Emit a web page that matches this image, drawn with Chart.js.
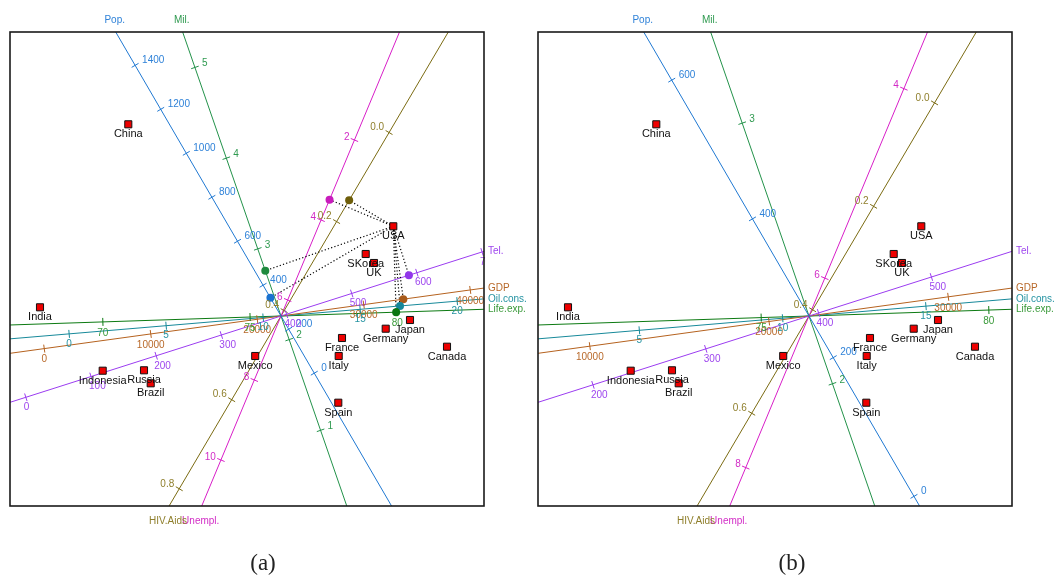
<!DOCTYPE html>
<html>
<head>
<meta charset="utf-8">
<script src="https://cdn.jsdelivr.net/npm/chart.js@4/dist/chart.umd.min.js"></script>
<style>
  html, body { margin: 0; padding: 0; background: #fff; }
  body { width: 1057px; height: 579px; position: relative; overflow: hidden; }
  canvas { position: absolute; top: 0; }
  #panelA { left: 0; }
  #panelB { left: 528px; }
  .caption { position: absolute; top: 550px; width: 60px; text-align: center;
             font-family: "Liberation Serif", "DejaVu Serif", serif; font-size: 23px; color: #222; line-height: 26px; }
</style>
</head>
<body>
<canvas id="panelA" width="528" height="579" style="width:528px;height:579px"></canvas>
<canvas id="panelB" width="529" height="579" style="width:529px;height:579px"></canvas>
<div class="caption" style="left:233px">(a)</div>
<div class="caption" style="left:762px">(b)</div>
<script>
// Country scores on the two principal coordinates
const countries = ['China','India','Indonesia','Russia','Brazil','Mexico','USA','SKorea','UK',
                   'Japan','Germany','France','Italy','Canada','Spain'];
const scoreX = [-1.527,-2.41,-1.783,-1.37,-1.303,-0.258,1.123,0.847,0.93,1.29,1.047,0.61,0.577,1.66,0.573];
const scoreY = [1.917,0.087,-0.547,-0.543,-0.673,-0.40,0.897,0.62,0.53,-0.04,-0.127,-0.22,-0.40,-0.307,-0.867];

// Biplot axes: direction of increasing values (degrees), value at the centre
const varNames   = ['Pop.','Mil.','Unempl.','HIV.Aids','Tel.','GDP','Oil.cons.','Life.exp.'];
const varAngle   = [120.2, 109.1, 247.35, 239.5, 17.67, 7.84, 4.82, 1.9];
const varMean    = [260, 2.26, 6.4, 0.412, 391.5, 22230, 10.92, 76.05];
const varDecimals = [0, 0, 0, 1, 0, 0, 0, 0];

// Length along the axis of one unit of each variable (plot units)
const unitLenA = [0.002544, 0.960, 0.4334, 5.168, 0.00684, 0.0001075, 0.1947, 0.2946];
const unitLenB = [0.008026, 2.758, 1.0265, 6.003, 0.01184, 0.0001809, 0.2876, 0.4555];

// Calibration markers shown on each axis
const ticksA = [
  [0,200,400,600,800,1000,1200,1400],
  [1,2,3,4,5],
  [2,4,6,8,10],
  [0,0.2,0.4,0.6,0.8],
  [0,100,200,300,400,500,600,700],
  [0,10000,20000,30000,40000],
  [0,5,10,15,20],
  [70,75,80]
];
const ticksB = [
  [0,200,400,600],
  [2,3],
  [4,6,8],
  [0,0.2,0.4,0.6],
  [200,300,400,500],
  [10000,20000,30000],
  [5,10,15],
  [75,80]
];

// Country projected onto every axis in panel (a)
const projectedCountry = 'USA';

// Styling
const lineColors = ['#1f78d2','#23924a','#d81ec8','#7b6b12','#9b3cf0','#b5621f','#17899a','#0c7a12'];
const textColors = ['#2f82d8','#2f9a50','#d22cc6','#8f7f2c','#9e46ee','#b8692a','#2593a2','#3a9a3a'];
const dotColors  = ['#1a72d0','#1d8a3d','#c81cbc','#6e5e0a','#9236ea','#a85a1a','#15879a','#0b7512'];
// tick label offsets in pixels [dx, dy, align]
const labelOffsets = [
  [7,-5,'left'], [7,-4,'left'], [-5,-3,'right'], [-5,-5,'right'],
  [-2,10,'left'], [0,11,'center'], [0,10,'center'], [0,11,'center']
];
const plotBox = { xmin: -2.71, xmax: 2.03, ymin: -1.90, ymax: 2.84 };
const FONT = '"Liberation Sans", Arial, Helvetica, sans-serif';

function clipLine(ux, uy, b) {
  let t0 = -Infinity, t1 = Infinity, side1 = null, side0 = null;
  if (Math.abs(ux) > 1e-12) {
    const a = b.xmin / ux, c = b.xmax / ux;
    const lo = Math.min(a, c), hi = Math.max(a, c);
    if (lo > t0) { t0 = lo; side0 = ux > 0 ? 'left' : 'right'; }
    if (hi < t1) { t1 = hi; side1 = ux > 0 ? 'right' : 'left'; }
  }
  if (Math.abs(uy) > 1e-12) {
    const a = b.ymin / uy, c = b.ymax / uy;
    const lo = Math.min(a, c), hi = Math.max(a, c);
    if (lo > t0) { t0 = lo; side0 = uy > 0 ? 'bottom' : 'top'; }
    if (hi < t1) { t1 = hi; side1 = uy > 0 ? 'top' : 'bottom'; }
  }
  return { t0, t1, side0, side1 };
}

function buildPanel(canvasId, unitLen, ticks, withProjection) {
  const datasets = [];
  const usa = countries.indexOf(projectedCountry);

  datasets.push({
    type: 'scatter', order: 0,
    data: countries.map((c, i) => ({ x: scoreX[i], y: scoreY[i] })),
    pointStyle: 'rect', pointRadius: 5, pointHoverRadius: 5,
    backgroundColor: '#ee0000', borderColor: '#111', borderWidth: 1
  });

  if (withProjection) {
    const proj = varNames.map((n, i) => {
      const a = varAngle[i] * Math.PI / 180, ux = Math.cos(a), uy = Math.sin(a);
      const t = scoreX[usa] * ux + scoreY[usa] * uy;
      return { x: t * ux, y: t * uy };
    });
    datasets.push({
      type: 'scatter', order: 1, data: proj,
      pointStyle: 'circle', pointRadius: 4, pointHoverRadius: 4,
      backgroundColor: dotColors, borderColor: dotColors, borderWidth: 0
    });
    proj.forEach(p => {
      datasets.push({
        type: 'line', order: 2,
        data: [{ x: scoreX[usa], y: scoreY[usa] }, p],
        borderColor: '#000', borderWidth: 1.2, borderDash: [1.2, 2.2],
        pointRadius: 0, fill: false, tension: 0
      });
    });
  }

  varNames.forEach((name, i) => {
    const a = varAngle[i] * Math.PI / 180, ux = Math.cos(a), uy = Math.sin(a);
    const c = clipLine(ux, uy, plotBox);
    datasets.push({
      type: 'line', order: 3,
      data: [{ x: c.t0 * ux, y: c.t0 * uy }, { x: c.t1 * ux, y: c.t1 * uy }],
      borderColor: lineColors[i], borderWidth: 1, pointRadius: 0, fill: false, tension: 0
    });
  });

  const biplotPlugin = {
    id: 'biplotAxes',
    afterDatasetsDraw(chart) {
      const ctx = chart.ctx, xs = chart.scales.x, ys = chart.scales.y, area = chart.chartArea;
      ctx.save();
      // calibration ticks and their labels
      varNames.forEach((name, i) => {
        const a = varAngle[i] * Math.PI / 180, ux = Math.cos(a), uy = Math.sin(a);
        const px = Math.sin(a), py = Math.cos(a); // perpendicular in pixel space
        ticks[i].forEach(v => {
          const t = (v - varMean[i]) * unitLen[i];
          const X = xs.getPixelForValue(t * ux), Y = ys.getPixelForValue(t * uy);
          ctx.strokeStyle = lineColors[i];
          ctx.lineWidth = 1;
          ctx.beginPath();
          ctx.moveTo(X - 4 * px, Y - 4 * py);
          ctx.lineTo(X + 4 * px, Y + 4 * py);
          ctx.stroke();
          const [dx, dy, align] = labelOffsets[i];
          ctx.save();
          ctx.beginPath();
          ctx.rect(0, area.top - 20, area.right + 1.5, area.bottom - area.top + 40);
          ctx.clip();
          ctx.fillStyle = textColors[i];
          ctx.font = '10px ' + FONT;
          ctx.textAlign = align;
          ctx.textBaseline = 'middle';
          ctx.fillText(v.toFixed(varDecimals[i]), X + dx, Y + dy);
          ctx.restore();
        });
        // axis name beyond the positive end
        const c = clipLine(ux, uy, plotBox);
        const EX = xs.getPixelForValue(c.t1 * ux), EY = ys.getPixelForValue(c.t1 * uy);
        ctx.fillStyle = textColors[i];
        ctx.font = '10px ' + FONT;
        ctx.textBaseline = 'middle';
        if (c.side1 === 'right') { ctx.textAlign = 'left'; ctx.fillText(name, area.right + 4, EY); }
        else if (c.side1 === 'top') { ctx.textAlign = 'center'; ctx.fillText(name, EX - 1, area.top - 12); }
        else if (c.side1 === 'bottom') { ctx.textAlign = 'center'; ctx.fillText(name, EX - 1, area.bottom + 15); }
        else { ctx.textAlign = 'right'; ctx.fillText(name, area.left - 4, EY); }
      });
      // country names
      ctx.fillStyle = '#111';
      ctx.font = '11px ' + FONT;
      ctx.textAlign = 'center';
      ctx.textBaseline = 'middle';
      countries.forEach((cName, i) => {
        ctx.fillText(cName, xs.getPixelForValue(scoreX[i]), ys.getPixelForValue(scoreY[i]) + 10);
      });
      // frame
      ctx.strokeStyle = '#1a1a1a';
      ctx.lineWidth = 1.6;
      ctx.strokeRect(area.left, area.top, area.right - area.left, area.bottom - area.top);
      ctx.restore();
    }
  };

  const canvas = document.getElementById(canvasId);
  return new Chart(canvas, {
    type: 'scatter',
    data: { datasets },
    options: {
      responsive: false,
      animation: false,
      events: [],
      layout: { padding: { left: 10, top: 32, right: canvas.width - 484, bottom: 579 - 506 } },
      scales: {
        x: { type: 'linear', min: plotBox.xmin, max: plotBox.xmax, display: false },
        y: { type: 'linear', min: plotBox.ymin, max: plotBox.ymax, display: false }
      },
      plugins: { legend: { display: false }, tooltip: { enabled: false } }
    },
    plugins: [biplotPlugin]
  });
}

buildPanel('panelA', unitLenA, ticksA, true);
buildPanel('panelB', unitLenB, ticksB, false);
</script>
</body>
</html>
